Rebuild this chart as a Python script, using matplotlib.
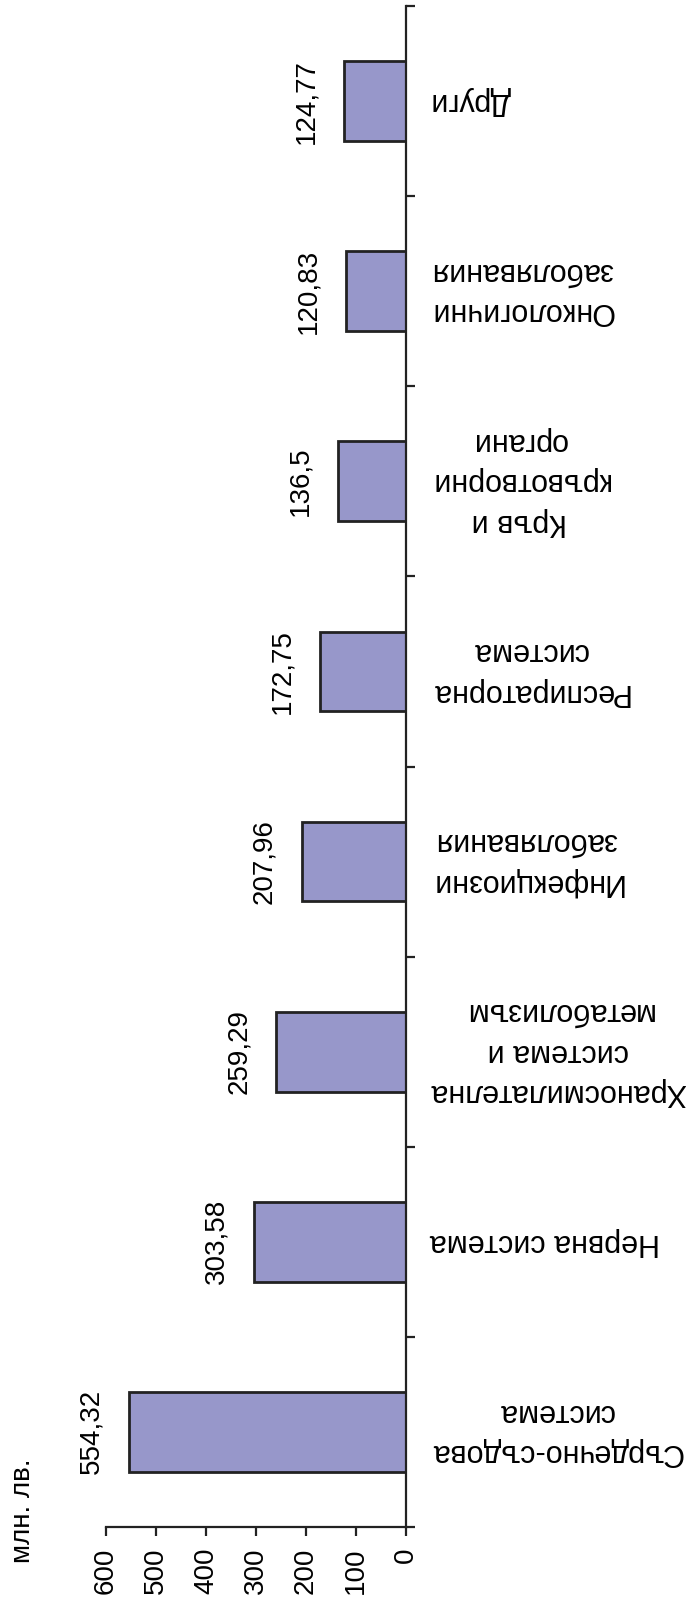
import matplotlib
matplotlib.use("Agg")
import matplotlib.pyplot as plt
import numpy as np

# Разходи по групи заболявания, млн. лв.
categories = [
    "Сърдечно-съдова\nсистема",
    "Нервна система",
    "Храносмилателна\nсистема и\nметаболизъм",
    "Инфекциозни\nзаболявания",
    "Респираторна\nсистема",
    "Кръв и\nкръвотворни\nоргани",
    "Онкологични\nзаболявания",
    "Други",
]
values = [554.32, 303.58, 259.29, 207.96, 172.75, 136.5, 120.83, 124.77]
value_ticks = [0, 100, 200, 300, 400, 500, 600]

plt.rcParams["font.family"] = ["Liberation Sans", "DejaVu Sans"]

W, H = 686, 1612
fig = plt.figure(figsize=(W / 100, H / 100), dpi=100)
ax = fig.add_axes([106 / W, 85 / H, 300 / W, 1521 / H])

axis_color = "#222222"
pos = np.arange(len(values)) + 0.5
ax.barh(pos, values, height=0.42, color="#9797CA", edgecolor=axis_color, linewidth=2)

ax.set_xlim(600, 0)
ax.set_ylim(0, len(values))

for side in ("top", "left"):
    ax.spines[side].set_visible(False)
for side in ("right", "bottom"):
    ax.spines[side].set_color(axis_color)
    ax.spines[side].set_linewidth(1.6)

ax.yaxis.tick_right()
ax.set_yticks(np.arange(len(values) + 1))
ax.set_yticklabels([])
ax.tick_params(axis="y", direction="out", length=6.5, width=1.6, color=axis_color)

ax.set_xticks(value_ticks)
ax.set_xticklabels([str(t) for t in value_ticks])
ax.tick_params(axis="x", direction="out", length=6.5, width=1.6, color=axis_color,
               labelrotation=90, labelsize=20, pad=8)

# Надписи на категориите (обърнати) вдясно от оста
trans = ax.get_yaxis_transform()
for y, name in zip(pos, categories):
    ax.text(1.08, y, name, transform=trans, rotation=180, ha="left", va="center",
            multialignment="center", fontsize=22, linespacing=1.45)

# Стойности до всеки стълб
for y, v in zip(pos, values):
    label = f"{v:g}".replace(".", ",")
    ax.annotate(label, (v, y), xytext=(-27, 0), textcoords="offset points",
                rotation=90, ha="center", va="center", fontsize=20)

fig.text(23 / W, 1 - 1511 / H, "млн. лв.", rotation=90, ha="center", va="center",
         fontsize=20)

fig.savefig("out.png", dpi=100)
